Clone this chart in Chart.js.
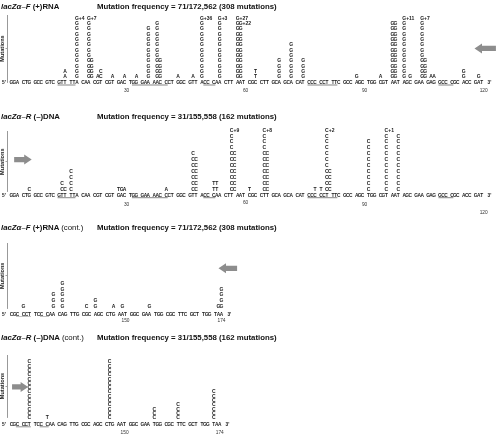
<!DOCTYPE html>
<html>
<head>
<meta charset="utf-8">
<script src="https://cdn.jsdelivr.net/npm/chart.js@4.4.1/dist/chart.umd.min.js"></script>
<style>
body { margin: 0; background: #fff; }
#wrap { position: relative; width: 502px; height: 442px; overflow: hidden; font-family: "Liberation Sans", Arial, sans-serif; }
#wrap canvas { position: absolute; left: 0; }
.ttl { position: absolute; left: 1px; font-size: 7.8px; line-height: 8px; font-weight: bold; color: #111; white-space: nowrap; z-index: 2; }
.frq { left: 97px; }
.ttl .n { font-weight: normal; }
</style>
</head>
<body>
<div id="wrap">
	<div class="ttl" style="top:3.4px"><i>lacZα–F</i> (+)RNA</div>
	<div class="ttl frq" style="top:3.4px">Mutation frequency = 71/172,562 (308 mutations)</div>
	<div class="ttl" style="top:113.4px"><i>lacZα–R</i> (–)DNA</div>
	<div class="ttl frq" style="top:113.4px">Mutation frequency = 31/155,558 (162 mutations)</div>
	<div class="ttl" style="top:224.4px"><i>lacZα–F</i> (+)RNA <span class="n">(cont.)</span></div>
	<div class="ttl frq" style="top:224.4px">Mutation frequency = 71/172,562 (308 mutations)</div>
	<div class="ttl" style="top:334.4px"><i>lacZα–R</i> (–)DNA <span class="n">(cont.)</span></div>
	<div class="ttl frq" style="top:334.4px">Mutation frequency = 31/155,558 (162 mutations)</div>
</div>
<script>
// sequence shown under panels 1-2 (bases 1-120) and 3-4 (bases 121-174)
var codons1 = ['GGA','CTG','GCC','GTC','GTT','TTA','CAA','CGT','CGT','GAC','TGG','GAA','AAC','CCT','GGC','GTT','ACC','CAA','CTT','AAT',
	'CGC','CTT','GCA','GCA','CAT','CCC','CCT','TTC','GCC','AGC','TGG','CGT','AAT','AGC','GAA','GAG','GCC','CGC','ACC','GAT'];
var codons3 = ['CGC','CCT','TCC','CAA','CAG','TTG','CGC','AGC','CTG','AAT','GGC','GAA','TGG','CGC','TTC','GCT','TGG','TAA'];

// mutation stacks, bottom row first ("G*11" = 11 rows of G)
var mutPos1 = [15, 18, 21, 23, 27, 30, 33, 36, 38, 43, 47, 49, 54, 58, 63, 69, 72, 75, 88, 94, 97, 100, 102, 105, 107, 108, 115, 119];
var mutStack1 = ['A*2', 'G*11,G+4', 'GG*4,G*7,G+7', 'AC, C', 'A', 'A', 'A', 'G*10', 'GG*4,G*7', 'A', 'A', 'G*11,G+36', 'G*11,G+3',
	'GG*10,GG+22,G+27', 'T*2', 'G*4', 'G*7', 'G*4', 'G', 'A', 'GG*11', 'G*11,G+11', 'G', 'GG*4,G*7,G+7', 'A', 'A', 'G*2', 'G'];

var mutPos2 = [6, 14, 16, 28, 40, 47, 52, 57, 61, 65, 78, 79, 81, 91, 96, 99];
var mutStack2 = ['C', 'CC,C', 'C*4', 'TGA', 'A', 'CC*6,C', 'TT*2', 'CC*7,C*3,C+9', 'T', 'CC*7,C*3,C+8', 'T', 'T',
	'CC*4,C*6,C+2', 'C*9', 'C*10,C+1', 'C*10'];

var mutPos3 = [124, 132, 134, 140, 142, 147, 149, 156, 173];
var mutStack3 = ['G', 'G*3', 'G*5', 'C', 'G*2', 'A', 'G', 'G', 'GG, G*3'];

var mutPos4 = [126, 130, 146, 157, 163, 172];
var mutStack4 = ['C*14', 'T', 'C*14', 'C*3', 'C*4', 'C*7'];

// marks under the sequence
var dotPos1 = [18, 21, 38, 49, 54, 58, 59, 97, 98, 100, 105];
var dotCount1 = [3, 3, 1, 3, 3, 3, 3, 1, 1, 3, 3];
var dotPos2 = [57, 58, 65, 66, 81, 91, 96, 99];
var dotCount2 = [3, 1, 3, 1, 3, 1, 2, 1];
var dotPos4 = [126, 146];
var dotCount4 = [2, 1];

// underlined stretches of the sequence
var underline1 = [[13, 17], [32, 40], [50, 52], [76, 83], [109, 112]];
var underline3 = [[123, 126], [129, 130]];

var tickNt1 = [30, 60, 90, 120];
var tickNt3 = [150, 174];

var X0 = 11.5, PITCH = 3; // pixel centre of the first base, width of a base

function expand(spec) {
	var rows = [];
	spec.split(',').forEach(function (part) {
		var m = part.match(/^(.*)\*(\d+)$/);
		if (m) {
			for (var i = 0; i < +m[2]; i++) rows.push(m[1]);
		} else {
			rows.push(part);
		}
	});
	return rows;
}

function charIdx(nt, start) {
	var k = nt - start;
	return k + Math.floor(k / 3);
}

var panels = [
	{ top: 0, h: 110, codons: codons1, start: 1, pos: mutPos1, stacks: mutStack1, dots: dotPos1, dotN: dotCount1,
		lines: underline1, ticks: tickNt1, axisTop: 15, axisBot: 82, row0: 76.7, rowH: 5.34, seqY: 82.5,
		labY: [90.5, 90.5, 90.5, 90.5], labDx: 2, dotY: [87.5, 93.3, 99.2], ulColor: '#333',
		arrow: { tail: 162.8, tip: 155.6, row: 5.3 } },
	{ top: 110, h: 110, codons: codons1, start: 1, pos: mutPos2, stacks: mutStack2, dots: dotPos2, dotN: dotCount2,
		lines: underline1, ticks: tickNt1, axisTop: 131.7, axisBot: 191.7, row0: 189.3, rowH: 5.95, seqY: 195.2,
		labY: [204, 202, 204, 212], labDx: 2, dotY: [200, 205.7, 211.5], ulColor: '#333',
		arrow: { tail: 0.9, tip: 6.8, row: 5.0 } },
	{ top: 220, h: 110, codons: codons3, start: 121, pos: mutPos3, stacks: mutStack3, dots: [], dotN: [],
		lines: underline3, ticks: tickNt3, axisTop: 243.3, axisBot: 308.3, row0: 306.5, rowH: 5.9, seqY: 314,
		labY: [320, 320], labDx: 0, dotY: [], ulColor: '#999',
		arrow: { tail: 75.2, tip: 69.0, row: 6.47 } },
	{ top: 330, h: 112, codons: codons3, start: 121, pos: mutPos4, stacks: mutStack4, dots: dotPos4, dotN: dotCount4,
		lines: underline3, ticks: tickNt3, axisTop: 355, axisBot: 417, row0: 417.5, rowH: 4.3, seqY: 424.3,
		labY: [432.3, 432.3], labDx: 0, dotY: [431, 436], ulColor: '#444',
		arrow: { tail: 0.2, tip: 5.6, row: 7.1 } }
];

var LETTER_PX = 5;

function drawArrow(ctx, xTail, xTip, y) {
	var dir = xTip > xTail ? 1 : -1;
	var neck = xTip - dir * 7.5;
	ctx.beginPath();
	ctx.moveTo(xTail, y - 2.6);
	ctx.lineTo(neck, y - 2.6);
	ctx.lineTo(neck, y - 5);
	ctx.lineTo(xTip, y);
	ctx.lineTo(neck, y + 5);
	ctx.lineTo(neck, y + 2.6);
	ctx.lineTo(xTail, y + 2.6);
	ctx.closePath();
	ctx.fill();
}

function makeTextPlugin(P) {
	return {
		id: 'stackText',
		afterDatasetsDraw: function (chart) {
			var ctx = chart.ctx, xs = chart.scales.x, ys = chart.scales.y;
			ctx.save();

			// underlines
			var uy = ys.getPixelForValue((P.row0 - P.seqY) / P.rowH) + 2.5;
			ctx.strokeStyle = P.ulColor;
			ctx.lineWidth = 0.6;
			P.lines.forEach(function (l) {
				ctx.beginPath();
				ctx.moveTo(xs.getPixelForValue(charIdx(l[0], P.start)) - 1.5, uy);
				ctx.lineTo(xs.getPixelForValue(charIdx(l[1], P.start)) + 1.5, uy);
				ctx.stroke();
			});

			chart.data.datasets.forEach(function (ds, di) {
				if (!ds.textFont) return;
				var meta = chart.getDatasetMeta(di);
				ctx.font = ds.textFont;
				ctx.fillStyle = ds.textColor;
				ctx.textBaseline = 'alphabetic';
				meta.data.forEach(function (el, i) {
					var d = ds.data[i];
					var base = el.y + ds.capShift;
					if (d.whole) {
						ctx.textAlign = 'center';
						ctx.fillText(d.t, el.x + (d.dx || 0), base);
						return;
					}
					var m = d.t.match(/^([ ACGT]*)(.*)$/);
					var run = m[1], rest = m[2];
					ctx.textAlign = 'center';
					for (var k = 0; k < run.length; k++) {
						if (run.charAt(k) === ' ') continue;
						ctx.fillText(run.charAt(k), xs.getPixelForValue(d.x + k), base);
					}
					if (rest) {
						ctx.textAlign = 'left';
						ctx.fillText(rest, xs.getPixelForValue(d.x + run.length - 1) + 1.9, base);
					}
				});
			});

			// grey arrow
			ctx.fillStyle = '#8d8d8d';
			var ay = ys.getPixelForValue(P.arrow.row);
			drawArrow(ctx, xs.getPixelForValue(P.arrow.tail), xs.getPixelForValue(P.arrow.tip), ay);
			ctx.restore();
		}
	};
}

function buildPanel(P) {
	var cv = document.createElement('canvas');
	cv.width = 502;
	cv.height = P.h;
	cv.style.top = P.top + 'px';
	document.getElementById('wrap').appendChild(cv);

	var axisLeft = 7.5;
	var xmin = (axisLeft - X0) / PITCH;
	var xmax = xmin + (502 - axisLeft) / PITCH;
	var ymax = (P.row0 - P.axisTop) / P.rowH;
	var ymin = (P.row0 - P.axisBot) / P.rowH;
	function yv(py) { return (P.row0 - py) / P.rowH; }

	var letters = [];
	P.pos.forEach(function (nt, i) {
		expand(P.stacks[i]).forEach(function (t, r) {
			letters.push({ x: charIdx(nt, P.start), y: r, t: t });
		});
	});

	var seq = [];
	var nBases = P.codons.length * 3;
	P.codons.join('').split('').forEach(function (b, i) {
		seq.push({ x: charIdx(P.start + i, P.start), y: yv(P.seqY), t: b });
	});
	seq.push({ x: -2.5, y: yv(P.seqY), t: "5'", whole: true });
	seq.push({ x: charIdx(P.start + nBases - 1, P.start) + 2.6, y: yv(P.seqY), t: "3'", whole: true });

	var dots = [];
	P.dots.forEach(function (nt, i) {
		for (var k = 0; k < P.dotN[i]; k++) {
			dots.push({ x: charIdx(nt, P.start), y: yv(P.dotY[k]) });
		}
	});

	var labels = P.ticks.map(function (nt, i) {
		return { x: charIdx(nt, P.start), y: yv(P.labY[i]), t: String(nt), whole: true, dx: P.labDx };
	});

	var capShift = 0.716 * LETTER_PX / 2;

	new Chart(cv.getContext('2d'), {
		type: 'scatter',
		data: {
			datasets: [
				{ data: letters, pointRadius: 0, clip: false, textFont: 'bold ' + LETTER_PX + 'px "Liberation Sans"', textColor: '#1a1a1a', capShift: capShift },
				{ data: seq, pointRadius: 0, clip: false, textFont: 'bold 4.8px "Liberation Sans"', textColor: '#1a1a1a', capShift: 0.716 * 4.8 / 2 },
				{ data: labels, pointRadius: 0, clip: false, textFont: '4.8px "Liberation Sans"', textColor: '#333', capShift: 0.716 * 4.8 / 2 },
				{ data: dots, pointRadius: 0.7, backgroundColor: '#333', borderWidth: 0, clip: false }
			]
		},
		options: {
			responsive: false,
			animation: false,
			events: [],
			devicePixelRatio: 1,
			layout: { padding: { top: P.axisTop - P.top, bottom: P.top + P.h - P.axisBot, left: 0, right: 0 } },
			plugins: { legend: { display: false }, tooltip: { enabled: false } },
			scales: {
				x: { type: 'linear', display: false, min: xmin, max: xmax },
				y: {
					type: 'linear',
					min: ymin,
					max: ymax,
					afterFit: function (s) { s.width = axisLeft; },
					afterBuildTicks: function (s) { s.ticks = [{ value: (ymin + ymax) / 2 }]; },
					ticks: { display: false },
					grid: { drawOnChartArea: false, drawTicks: true, tickLength: 2, color: '#888', lineWidth: 0.8 },
					border: { display: true, color: '#999', width: 1 },
					title: {
						display: true,
						text: 'Mutations',
						color: '#222',
						padding: 0,
						font: { family: '"Liberation Sans"', size: 5.6, weight: 'bold', lineHeight: 1 }
					}
				}
			}
		},
		plugins: [makeTextPlugin(P)]
	});
}

panels.forEach(buildPanel);
</script>
</body>
</html>
